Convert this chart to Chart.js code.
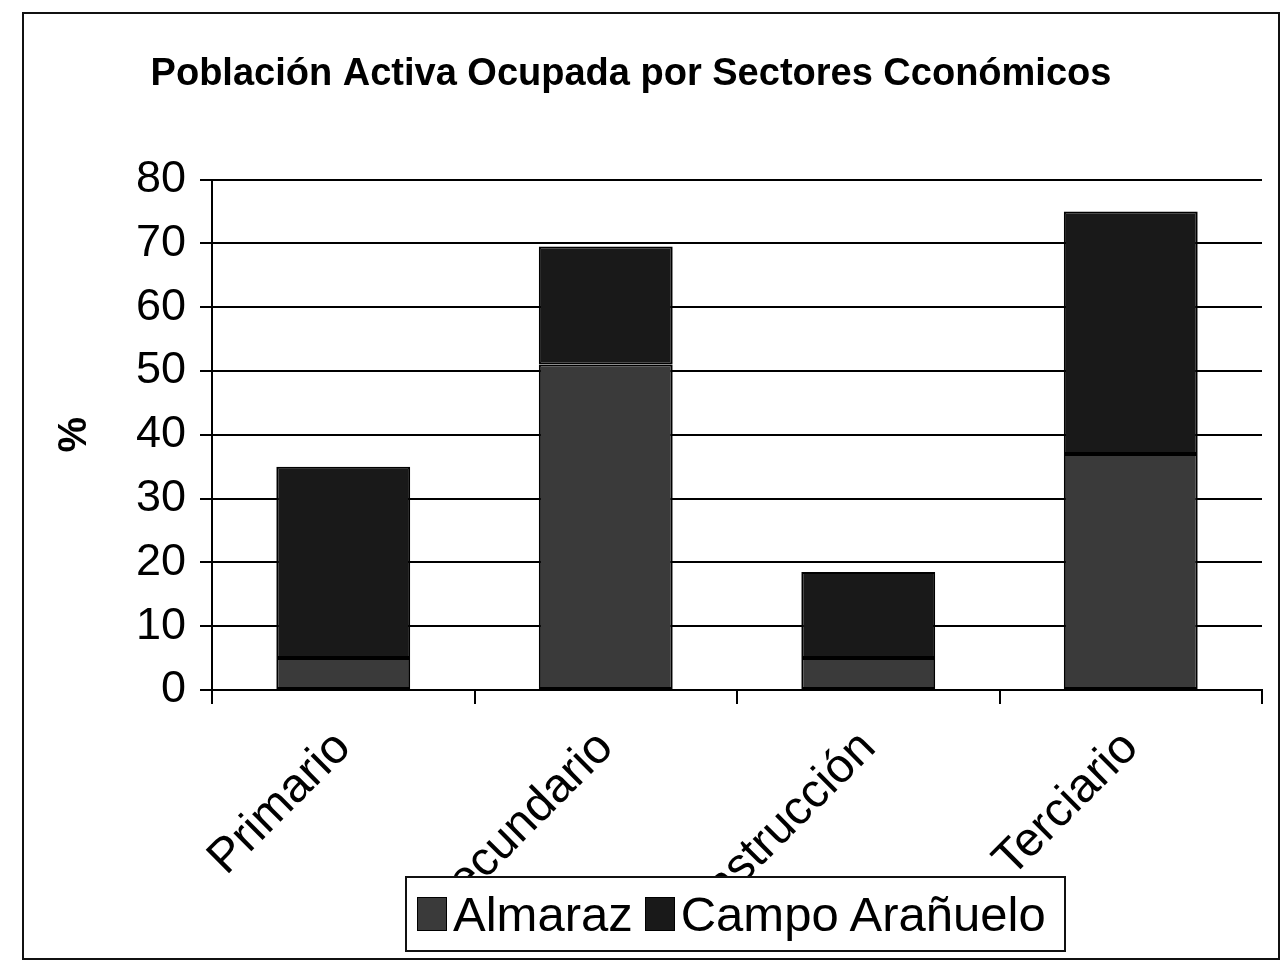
<!DOCTYPE html>
<html>
<head>
<meta charset="utf-8">
<script src="https://cdn.jsdelivr.net/npm/chart.js@4.4.0/dist/chart.umd.min.js"></script>
<style>
  body { margin: 0; background: #fff; }
  #wrap { position: relative; width: 1286px; height: 976px; }
  #frame { position: absolute; left: 22px; top: 12px; width: 1254px; height: 944px; border: 2px solid #111; pointer-events: none; }
  #legend { position: absolute; left: 405px; top: 876px; height: 72px; padding: 0 10px 0 6px; border: 2px solid #111; background: #fff;
            display: flex; align-items: center; font-family: "Liberation Sans", Arial, sans-serif; font-size: 49px; color: #000; }
  #legend .sw { display: inline-block; width: 28px; height: 32px; border: 1px solid #000; margin: 0 6px 0 4px; }
  #legend .it { display: flex; align-items: center; margin-right: 8px; }
</style>
</head>
<body>
<div id="wrap">
  <canvas id="barChart" width="1286" height="976"></canvas>
  <div id="frame"></div>
  <div id="legend"></div>
</div>
<script>
// data
var sectores = ["Primario", "Secundario", "Construcción", "Terciario"];
var almaraz = [5, 51, 5, 37];
var campoArañuelo = [30, 18.5, 13.5, 38];
var yTicks = [0, 10, 20, 30, 40, 50, 60, 70, 80];

var serieNames = ["Almaraz", "Campo Arañuelo"];
var serieColors = ["#3a3a3a", "#191919"];

var fontName = "'Liberation Sans', Arial, sans-serif";

new Chart("barChart", {
    type: "bar",
    data: {
        labels: sectores,
        datasets: [{
            label: serieNames[0],
            data: almaraz,
            backgroundColor: serieColors[0],
            borderColor: "#000",
            borderWidth: 2,
            borderSkipped: false,
            barPercentage: 0.51,
            categoryPercentage: 1
        }, {
            label: serieNames[1],
            data: campoArañuelo,
            backgroundColor: serieColors[1],
            borderColor: "#000",
            borderWidth: 2,
            borderSkipped: false,
            barPercentage: 0.51,
            categoryPercentage: 1
        }]
    },
    options: {
        responsive: false,
        animation: false,
        layout: {
            padding: { top: 0, right: 24, left: 0, bottom: 0 }
        },
        plugins: {
            legend: { display: false },
            tooltip: { enabled: false },
            title: {
                display: true,
                text: "Población Activa Ocupada por Sectores Cconómicos",
                color: "#000",
                font: { family: fontName, size: 38, weight: "bold" },
                padding: { top: 52, bottom: 82 }
            }
        },
        scales: {
            x: {
                stacked: true,
                grid: {
                    offset: true,
                    drawOnChartArea: false,
                    color: "#000",
                    lineWidth: 2,
                    tickLength: 14
                },
                border: { color: "#000", width: 2 },
                ticks: {
                    color: "#000",
                    font: { family: fontName, size: 48 },
                    minRotation: 45,
                    maxRotation: 45,
                    padding: 16
                },
                afterFit: function(scale) { scale.height = 286; }
            },
            y: {
                stacked: true,
                min: 0,
                max: 80,
                afterBuildTicks: function(scale) {
                    scale.ticks = yTicks.map(v => ({ value: v }));
                },
                grid: {
                    color: "#000",
                    lineWidth: 2,
                    tickLength: 12
                },
                border: { color: "#000", width: 2 },
                ticks: {
                    color: "#000",
                    font: { family: fontName, size: 45 },
                    padding: 14
                },
                title: {
                    display: true,
                    text: "%",
                    color: "#000",
                    font: { family: fontName, size: 40, weight: "bold" },
                    padding: { top: 51, bottom: 0 }
                },
                afterFit: function(scale) { scale.width = 212; }
            }
        }
    }
});

//legend built from the series
var legendDiv = document.getElementById("legend");
serieNames.forEach(function(name, i) {
    var item = document.createElement("span");
    item.className = "it";
    var sw = document.createElement("span");
    sw.className = "sw";
    sw.style.background = serieColors[i];
    var txt = document.createElement("span");
    txt.textContent = name;
    item.appendChild(sw);
    item.appendChild(txt);
    legendDiv.appendChild(item);
});
</script>
</body>
</html>
